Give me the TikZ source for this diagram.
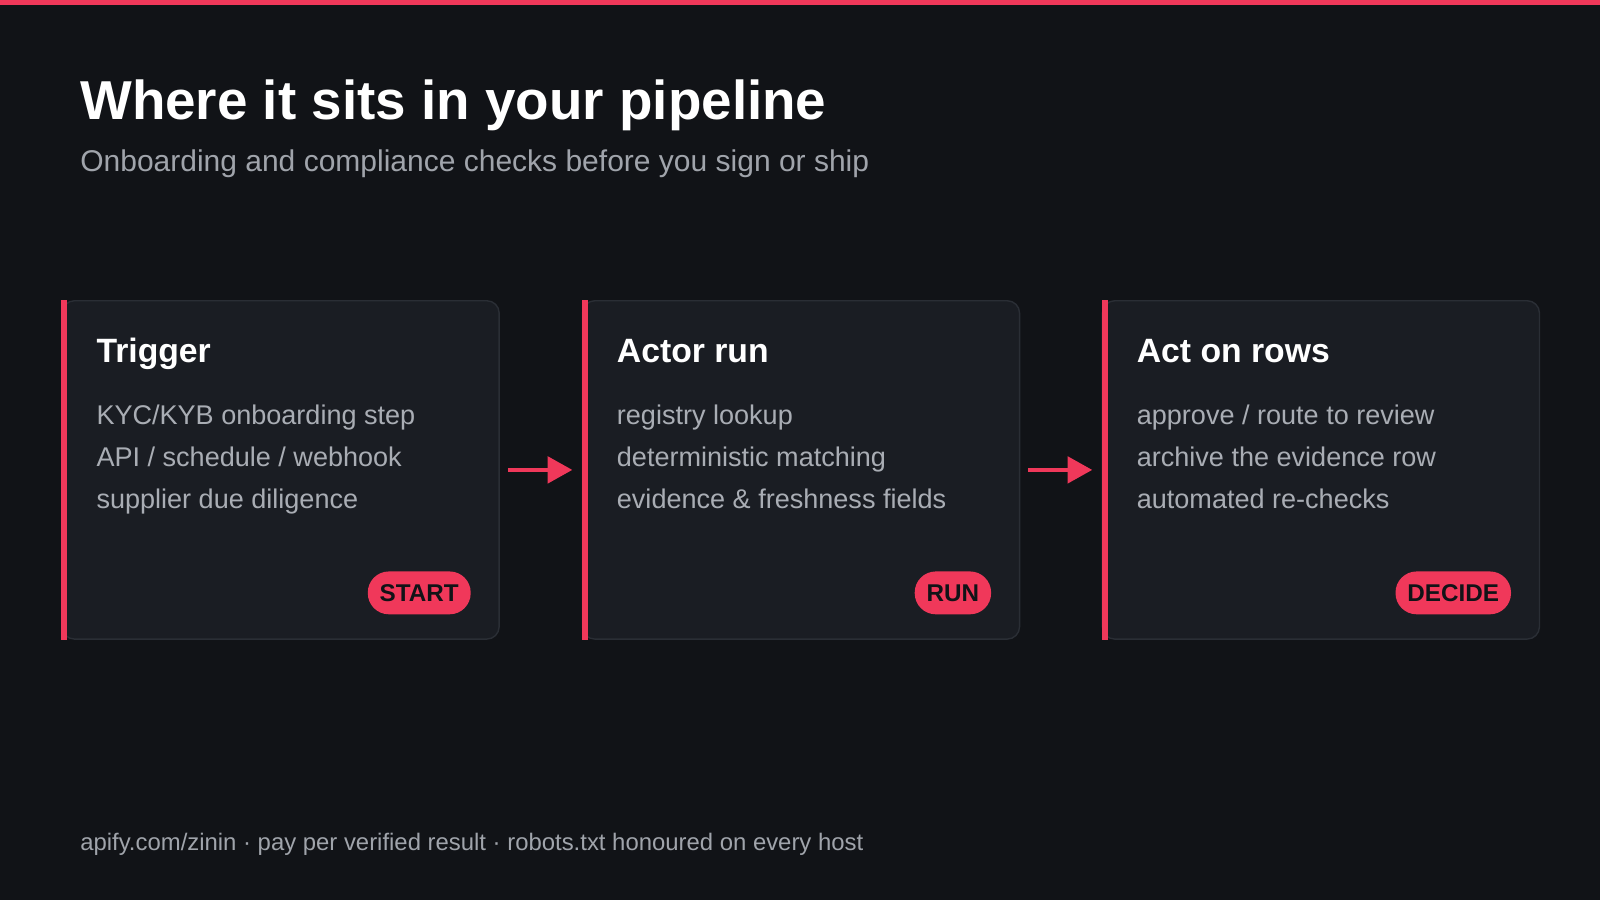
\documentclass[tikz,border=0pt]{standalone}
\usepackage{fontspec}
\setmainfont{Liberation Sans}
\usetikzlibrary{positioning,arrows.meta}
\definecolor{bgdark}{HTML}{111317}
\definecolor{cardbg}{HTML}{1A1D23}
\definecolor{cardline}{HTML}{2A2E35}
\definecolor{accent}{HTML}{F0385A}
\definecolor{subgray}{HTML}{A0A4AB}
\definecolor{bodygray}{HTML}{A9ADB4}
\tikzset{
  card/.style={draw=cardline, fill=cardbg, rounded corners=3.5pt, line width=0.4pt,
    minimum width=124.4pt, minimum height=96.3pt, inner sep=0pt},
  cardtitle/.style={anchor=base west, text=white, font=\bfseries\fontsize{9.6}{11}\selectfont},
  cardbody/.style={anchor=north west, text=bodygray, align=left,
    font=\fontsize{7.7}{12}\selectfont, inner sep=0pt},
  badge/.style={fill=accent, rounded corners=6pt, minimum height=12.2pt, inner xsep=3.4pt,
    text=bgdark, font=\bfseries\fontsize{6.9}{8}\selectfont},
  flow/.style={-{Triangle[length=7pt,width=7.5pt]}, draw=accent, line width=1.1pt}
}
\begin{document}
\begin{tikzpicture}[x=0.010204cm, y=-0.010204cm]
\useasboundingbox[fill=bgdark] (0,0) rectangle (1568,882);
\fill[accent] (0,0) rectangle (1568,5);

%% heading
\node[anchor=base west, inner sep=0pt, text=white, font=\bfseries\fontsize{15.6}{18}\selectfont] (title) at (78,117) {Where it sits in your pipeline};
\node[anchor=west, inner sep=0pt, text=subgray, font=\fontsize{8.54}{10}\selectfont] (subtitle) at (78,160) {Onboarding and compliance checks before you sign or ship};

%% cards
\foreach \i/\cx/\head/\body/\tag in {%
  1/275/Trigger/{KYC/KYB onboarding step\\API / schedule / webhook\\supplier due diligence}/START,
  2/785/Actor run/{registry lookup\\deterministic matching\\evidence \& freshness fields}/RUN,
  3/1294.5/Act on rows/{approve / route to review\\archive the evidence row\\automated re-checks}/DECIDE}{
  \node[card] (card\i) at (\cx,460.5) {};
  \draw[accent, line width=1.7pt] ([xshift=0.85pt]card\i.north west) -- ([xshift=0.85pt]card\i.south west);
  \node[cardtitle, inner sep=0pt] (head\i) at ([xshift=9.8pt]card\i.west |- 0,355) {\head};
  \node[cardbody] (body\i) at ([xshift=9.8pt]card\i.west |- 0,396) {\body};
  \node[badge, anchor=east] (tag\i) at ([xshift=-8.1pt]card\i.east |- 0,581) {\tag};
}

%% connectors
\draw[flow] ([xshift=2.3pt]card1.east) -- ([xshift=-2.7pt]card2.west);
\draw[flow] ([xshift=2.3pt]card2.east) -- ([xshift=-2.7pt]card3.west);

%% footer
\node[anchor=west, inner sep=0pt, text=subgray, font=\fontsize{6.8}{8}\selectfont] (footer) at (78,827) {apify.com/zinin · pay per verified result · robots.txt honoured on every host};
\end{tikzpicture}
\end{document}
